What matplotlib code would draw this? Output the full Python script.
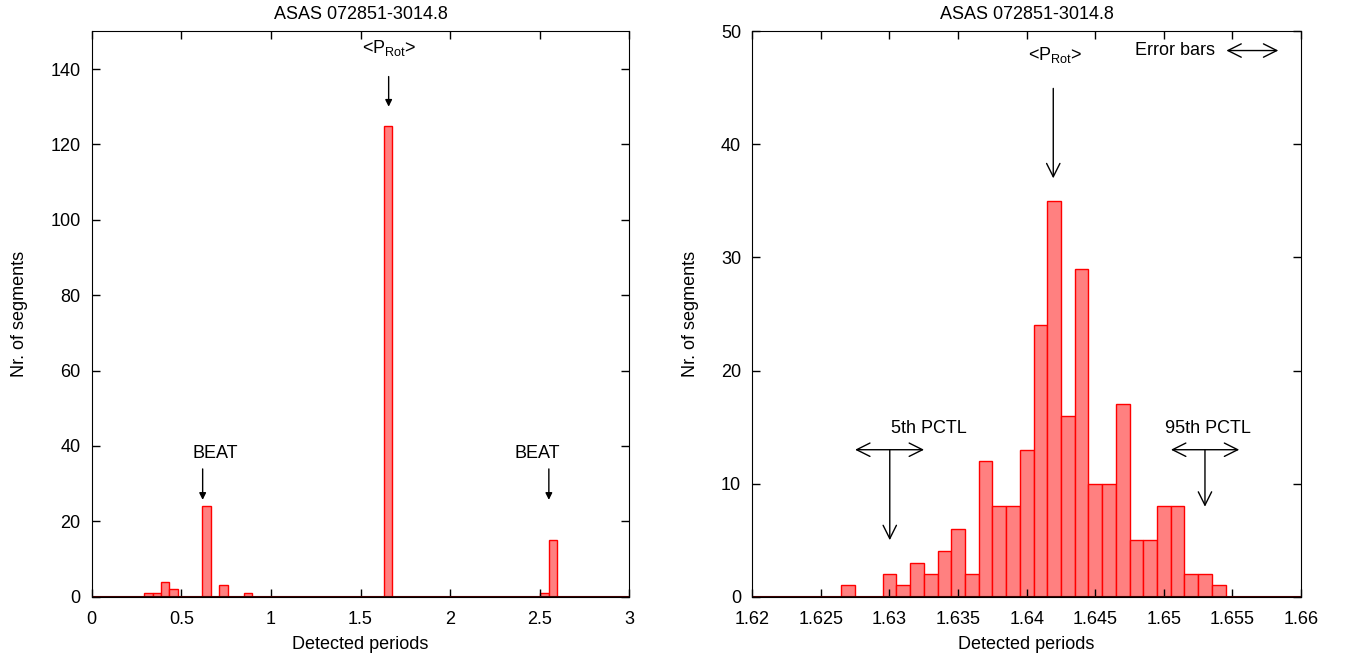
import matplotlib
matplotlib.use("Agg")
import matplotlib.pyplot as plt

plt.rcParams["font.family"] = ["Liberation Sans", "DejaVu Sans"]
plt.rcParams["mathtext.fontset"] = "custom"
plt.rcParams["mathtext.rm"] = "Liberation Sans"
plt.rcParams["font.size"] = 13

title = "ASAS 072851-3014.8"

# left panel: full range of detected periods
left_centers = [0.316, 0.363, 0.41, 0.457, 0.641, 0.735, 0.873, 1.653, 2.527, 2.575]
left_counts = [1, 1, 4, 2, 24, 3, 1, 125, 1, 15]
left_width = 0.047

# right panel: zoom around the rotation period
right_centers = [1.627, 1.630, 1.631, 1.632, 1.633, 1.634, 1.635, 1.636, 1.637,
                 1.638, 1.639, 1.640, 1.641, 1.642, 1.643, 1.644, 1.645, 1.646,
                 1.647, 1.648, 1.649, 1.650, 1.651, 1.652, 1.653, 1.654]
right_counts = [1, 2, 1, 3, 2, 4, 6, 2, 12, 8, 8, 13, 24, 35, 16, 29, 10, 10,
                17, 5, 5, 8, 8, 2, 2, 1]
right_width = 0.001

prot_label = r"<P$_{\rm Rot}$>"

fill = "#ff8080"
edge = "#ff0000"

fig = plt.figure(figsize=(13.49, 6.62), dpi=100)
ax1 = fig.add_axes([0.0680, 0.0986, 0.3985, 0.8541])
ax2 = fig.add_axes([0.5577, 0.0986, 0.4067, 0.8541])

for ax in (ax1, ax2):
    ax.tick_params(direction="in", top=True, right=True, length=6, width=1)
    ax.tick_params(axis="x", pad=10)
    ax.tick_params(axis="y", pad=8)
    ax.set_title(title, fontsize=13, pad=9)
    ax.set_xlabel("Detected periods", labelpad=6)
    ax.set_ylabel("Nr. of segments", labelpad=16)

# left
ax1.bar(left_centers, left_counts, width=left_width, color=fill, edgecolor=edge, linewidth=1.0)
ax1.axhline(0, color="#400000", linewidth=1.5)
ax1.set_xlim(0, 3)
ax1.set_ylim(0, 150)
ax1.set_xticks([0, 0.5, 1, 1.5, 2, 2.5, 3], ["0", "0.5", "1", "1.5", "2", "2.5", "3"])
ax1.set_yticks(range(0, 141, 20))

small = dict(arrowstyle="-|>", color="black", lw=1, mutation_scale=10, shrinkA=0, shrinkB=0)
ax1.text(1.659, 145.6, prot_label, ha="center", va="center")
ax1.annotate("", xy=(1.657, 130), xytext=(1.657, 138), arrowprops=small)
for tx, ax_x in [(0.688, 0.619), (2.485, 2.551)]:
    ax1.text(tx, 38.1, "BEAT", ha="center", va="center")
    ax1.annotate("", xy=(ax_x, 25.7), xytext=(ax_x, 33.9), arrowprops=small)

# right
ax2.bar(right_centers, right_counts, width=right_width, color=fill, edgecolor=edge, linewidth=1.0)
ax2.axhline(0, color="#400000", linewidth=1.5)
ax2.set_xlim(1.62, 1.66)
ax2.set_ylim(0, 50)
ax2.set_xticks([1.62, 1.625, 1.63, 1.635, 1.64, 1.645, 1.65, 1.655, 1.66],
               ["1.62", "1.625", "1.63", "1.635", "1.64", "1.645", "1.65", "1.655", "1.66"])
ax2.set_yticks(range(0, 51, 10))

arrow = dict(arrowstyle="->", color="black", lw=1, mutation_scale=24, shrinkA=0, shrinkB=0)
darrow = dict(arrowstyle="<->", color="black", lw=1, mutation_scale=24, shrinkA=0, shrinkB=0)

ax2.text(1.64207, 47.9, prot_label, ha="center", va="center")
ax2.annotate("", xy=(1.64194, 37.0), xytext=(1.64194, 44.95), arrowprops=arrow)

ax2.text(1.65376, 48.3, "Error bars", ha="right", va="center")
ax2.annotate("", xy=(1.65835, 48.3), xytext=(1.65456, 48.3), arrowprops=darrow)

pctl = [("5th PCTL", 1.63285, 1.62749, 1.63252, 1.63002, 5.0),
        ("95th PCTL", 1.65324, 1.65052, 1.65550, 1.65300, 7.96)]
for label, tx, x0, x1, xv, yv in pctl:
    ax2.text(tx, 14.9, label, ha="center", va="center")
    ax2.annotate("", xy=(x1, 13.0), xytext=(x0, 13.0), arrowprops=darrow)
    ax2.annotate("", xy=(xv, yv), xytext=(xv, 13.0), arrowprops=arrow)

fig.savefig("out.png", dpi=100)
